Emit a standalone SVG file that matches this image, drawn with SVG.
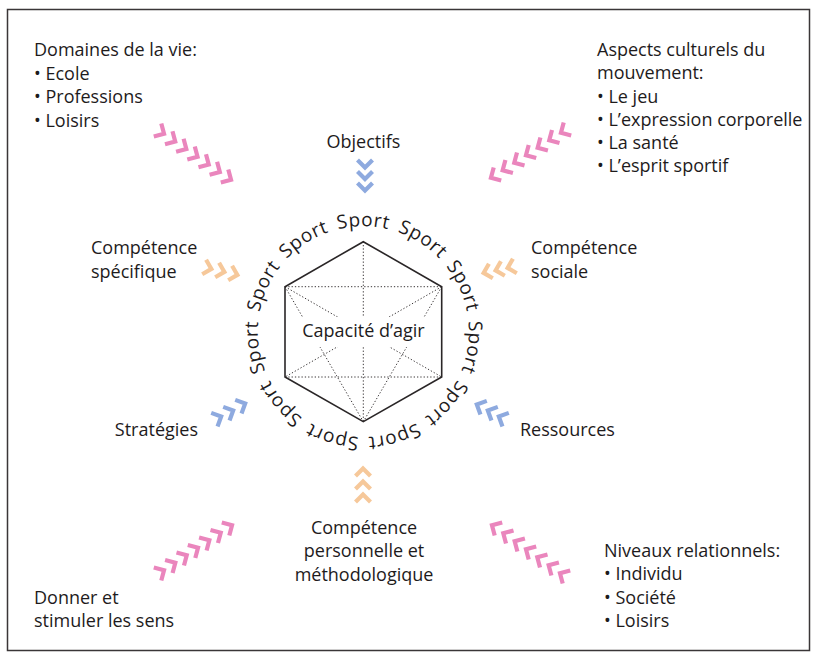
<svg xmlns="http://www.w3.org/2000/svg" xmlns:xlink="http://www.w3.org/1999/xlink" width="817" height="659" viewBox="0 0 817 659">
<style>
text{font-family:"Open Sans","Noto Sans",sans-serif;font-size:18px;font-weight:500;fill:#1e1b1c}
.c{text-anchor:middle}
.sp{font-size:19px;letter-spacing:0.6px}
.hex{fill:none;stroke:#2a2627;stroke-width:1.6;stroke-linejoin:miter}
.dot{fill:none;stroke:#3a3637;stroke-width:1;stroke-dasharray:1.3 2}
.pink{stroke:#ea86bd}
.blue{stroke:#8eaadf}
.orange{stroke:#f6c89a}
</style>
<defs>
<path id="chev" d="M-4,-7.5 L3.5,0 L-4,7.5" fill="none" stroke-width="4.2" stroke-linejoin="miter" stroke-miterlimit="10"/>
<path id="ring" d="M363.3,437.2 A105.5,105.5 0 1 1 363.3,226.2 A105.5,105.5 0 1 1 363.3,437.2"/>
</defs>
<rect x="7.5" y="9.5" width="802" height="641" fill="#fff" stroke="#3a3637" stroke-width="1.5"/>

<g id="center">
<line class="dot" x1="363.3" y1="241.7" x2="363.3" y2="421.7"/>
<line class="dot" x1="285" y1="286.7" x2="441.7" y2="286.7"/>
<line class="dot" x1="285" y1="377" x2="441.7" y2="377"/>
<line class="dot" x1="285" y1="286.7" x2="441.7" y2="377"/>
<line class="dot" x1="441.7" y1="286.7" x2="285" y2="377"/>
<line class="dot" x1="285" y1="286.7" x2="363.3" y2="421.7"/>
<line class="dot" x1="441.7" y1="286.7" x2="363.3" y2="421.7"/>
<rect x="287.5" y="317" width="152" height="30" fill="#fff"/>
<polygon class="hex" points="363.3,241.7 441.7,286.7 441.7,377 363.3,421.7 285,377 285,286.7"/>
<text class="c" x="363.5" y="337">Capacité d’agir</text>
</g>

<g id="sport-ring">
<text class="sp"><textPath href="#ring" startOffset="4.545%" text-anchor="middle">Sport</textPath></text>
<text class="sp"><textPath href="#ring" startOffset="13.636%" text-anchor="middle">Sport</textPath></text>
<text class="sp"><textPath href="#ring" startOffset="22.727%" text-anchor="middle">Sport</textPath></text>
<text class="sp"><textPath href="#ring" startOffset="31.818%" text-anchor="middle">Sport</textPath></text>
<text class="sp"><textPath href="#ring" startOffset="40.909%" text-anchor="middle">Sport</textPath></text>
<text class="sp"><textPath href="#ring" startOffset="50%" text-anchor="middle">Sport</textPath></text>
<text class="sp"><textPath href="#ring" startOffset="59.091%" text-anchor="middle">Sport</textPath></text>
<text class="sp"><textPath href="#ring" startOffset="68.182%" text-anchor="middle">Sport</textPath></text>
<text class="sp"><textPath href="#ring" startOffset="77.273%" text-anchor="middle">Sport</textPath></text>
<text class="sp"><textPath href="#ring" startOffset="86.364%" text-anchor="middle">Sport</textPath></text>
<text class="sp"><textPath href="#ring" startOffset="95.455%" text-anchor="middle">Sport</textPath></text>
</g>

<g id="domaines">
<text x="34" y="56">Domaines de la vie:</text>
<text x="34" y="80">• Ecole</text>
<text x="34" y="103">• Professions</text>
<text x="34" y="127">• Loisirs</text>
</g>

<g id="aspects">
<text x="597" y="56">Aspects culturels du</text>
<text x="597" y="79">mouvement:</text>
<text x="597" y="103">• Le jeu</text>
<text x="597" y="126">• L’expression corporelle</text>
<text x="597" y="149">• La santé</text>
<text x="597" y="172">• L’esprit sportif</text>
</g>

<g id="objectifs"><text class="c" x="363.5" y="148">Objectifs</text></g>
<g id="comp-specifique"><text x="91" y="254">Compétence</text><text x="91" y="278">spécifique</text></g>
<g id="comp-sociale"><text x="531" y="254">Compétence</text><text x="531" y="278">sociale</text></g>
<g id="strategies"><text x="198" y="436" text-anchor="end">Stratégies</text></g>
<g id="ressources"><text x="520" y="436">Ressources</text></g>
<g id="comp-personnelle"><text class="c" x="364" y="534">Compétence</text><text class="c" x="364" y="557">personnelle et</text><text class="c" x="364" y="581">méthodologique</text></g>
<g id="donner"><text x="34" y="604">Donner et</text><text x="34" y="627">stimuler les sens</text></g>
<g id="niveaux">
<text x="604" y="557">Niveaux relationnels:</text>
<text x="604" y="580">• Individu</text>
<text x="604" y="604">• Société</text>
<text x="604" y="627">• Loisirs</text>
</g>

<g id="connectors">
<g class="pink">
<use href="#chev" transform="translate(161,132) rotate(30)"/>
<use href="#chev" transform="translate(172.2,139.7) rotate(30)"/>
<use href="#chev" transform="translate(183.3,147.3) rotate(30)"/>
<use href="#chev" transform="translate(194.5,155) rotate(30)"/>
<use href="#chev" transform="translate(205.7,162.7) rotate(30)"/>
<use href="#chev" transform="translate(216.8,170.3) rotate(30)"/>
<use href="#chev" transform="translate(228,178) rotate(30)"/>

<use href="#chev" transform="translate(494,176) rotate(150)"/>
<use href="#chev" transform="translate(505.7,168.5) rotate(150)"/>
<use href="#chev" transform="translate(517.3,161) rotate(150)"/>
<use href="#chev" transform="translate(529,153.5) rotate(150)"/>
<use href="#chev" transform="translate(540.7,146) rotate(150)"/>
<use href="#chev" transform="translate(552.3,138.5) rotate(150)"/>
<use href="#chev" transform="translate(564,131) rotate(150)"/>

<use href="#chev" transform="translate(161,572) rotate(-30)"/>
<use href="#chev" transform="translate(172.3,564.5) rotate(-30)"/>
<use href="#chev" transform="translate(183.7,557) rotate(-30)"/>
<use href="#chev" transform="translate(195,549.5) rotate(-30)"/>
<use href="#chev" transform="translate(206.3,542) rotate(-30)"/>
<use href="#chev" transform="translate(217.7,534.5) rotate(-30)"/>
<use href="#chev" transform="translate(229,527) rotate(-30)"/>

<use href="#chev" transform="translate(495,527) rotate(210)"/>
<use href="#chev" transform="translate(506.3,535) rotate(210)"/>
<use href="#chev" transform="translate(517.7,543) rotate(210)"/>
<use href="#chev" transform="translate(529,551) rotate(210)"/>
<use href="#chev" transform="translate(540.3,559) rotate(210)"/>
<use href="#chev" transform="translate(551.7,567) rotate(210)"/>
<use href="#chev" transform="translate(563,575) rotate(210)"/>
</g>
<g class="blue">
<use href="#chev" transform="translate(365,164) rotate(90)"/>
<use href="#chev" transform="translate(365,175.5) rotate(90)"/>
<use href="#chev" transform="translate(365,187) rotate(90)"/>
<use href="#chev" transform="translate(218,418) rotate(-25)"/>
<use href="#chev" transform="translate(230,412) rotate(-25)"/>
<use href="#chev" transform="translate(242,405) rotate(-25)"/>
<use href="#chev" transform="translate(480,406) rotate(205)"/>
<use href="#chev" transform="translate(491,412) rotate(205)"/>
<use href="#chev" transform="translate(502,418) rotate(205)"/>
</g>
<g class="orange">
<use href="#chev" transform="translate(208,268) rotate(15)"/>
<use href="#chev" transform="translate(221,271) rotate(15)"/>
<use href="#chev" transform="translate(234,274) rotate(15)"/>
<use href="#chev" transform="translate(487,272) rotate(165)"/>
<use href="#chev" transform="translate(499,269.5) rotate(165)"/>
<use href="#chev" transform="translate(511,267) rotate(165)"/>
<use href="#chev" transform="translate(363,472) rotate(-90)"/>
<use href="#chev" transform="translate(363,485) rotate(-90)"/>
<use href="#chev" transform="translate(363,498) rotate(-90)"/>
</g>
</g>
</svg>
